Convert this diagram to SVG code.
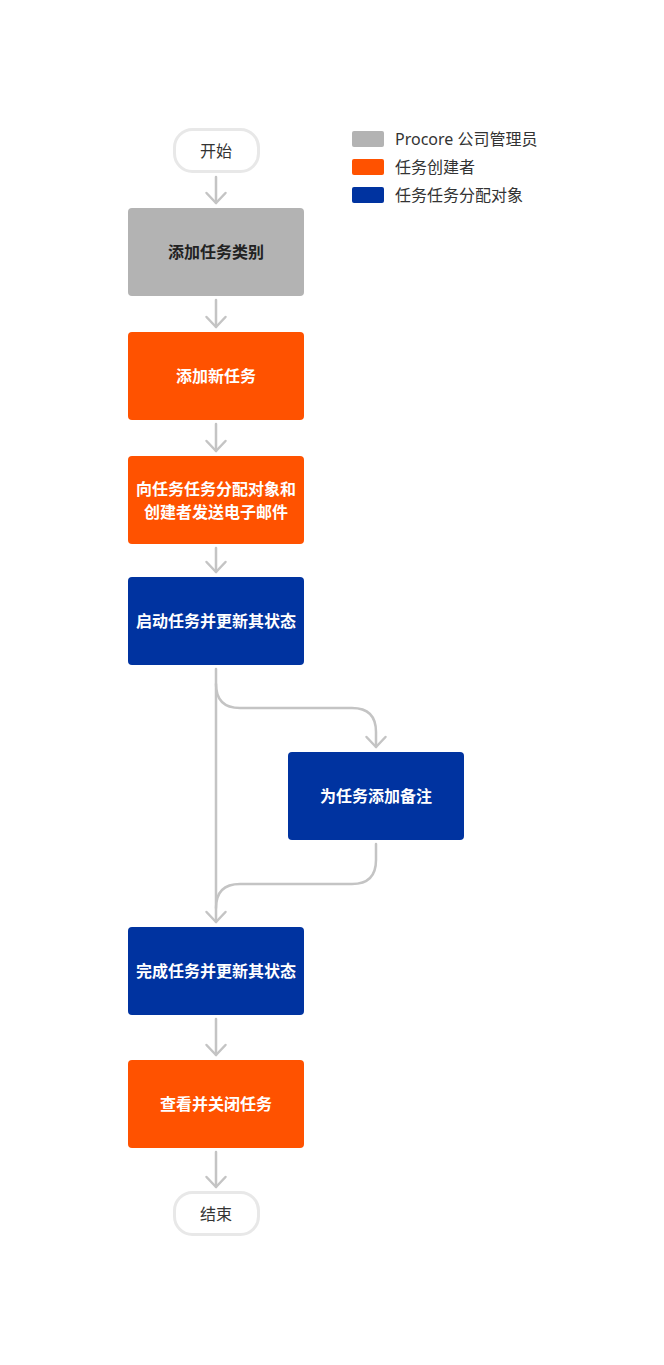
<svg xmlns="http://www.w3.org/2000/svg" width="664" height="1365" viewBox="0 0 664 1365">
<style>
.t{font-family:"Noto Sans CJK SC","Noto Sans",sans-serif;font-size:16px;text-anchor:middle;dominant-baseline:central}
.b{font-weight:bold;fill:#fff}
.d{fill:#222}
.lg{font-family:"Noto Sans","Noto Sans CJK SC",sans-serif;font-size:16px;fill:#333;dominant-baseline:central}
.pill{fill:#fff;stroke:#e8e8e8;stroke-width:3}
.c{fill:none;stroke:#c4c4c4;stroke-width:2.5;stroke-linecap:round;stroke-linejoin:round}
</style>
<defs>
<marker id="ah" viewBox="-12 -12 24 14" refX="0" refY="0" markerWidth="24" markerHeight="14" markerUnits="userSpaceOnUse" orient="auto-start-reverse" overflow="visible">
<path d="M-9.5,-10 L0,0 L9.5,-10" fill="none" stroke="#c4c4c4" stroke-width="2.5" stroke-linecap="round" stroke-linejoin="round" transform="rotate(-90)"/>
</marker>
</defs>
<rect width="664" height="1365" fill="#fff"/>
<g id="legend">
<rect x="352" y="131" width="32" height="16" rx="2" fill="#b3b3b3"/>
<text class="lg" x="395" y="139">Procore 公司管理员</text>
<rect x="352" y="159" width="32" height="16" rx="2" fill="#ff5200"/>
<text class="lg" x="395" y="167">任务创建者</text>
<rect x="352" y="187" width="32" height="16" rx="2" fill="#0033a0"/>
<text class="lg" x="395" y="195">任务任务分配对象</text>
</g>
<g id="connectors">
<path class="c" d="M216,177 V203" marker-end="url(#ah)"/>
<path class="c" d="M216,300 V327" marker-end="url(#ah)"/>
<path class="c" d="M216,424 V451" marker-end="url(#ah)"/>
<path class="c" d="M216,548 V572" marker-end="url(#ah)"/>
<path class="c" d="M216,669 V922" marker-end="url(#ah)"/>
<path class="c" d="M216,684 Q216,708 240,708 H352 Q376,708 376,732 V747" marker-end="url(#ah)"/>
<path class="c" d="M376,844 V860 Q376,884 352,884 H240 Q216,884 216,908"/>
<path class="c" d="M216,1019 V1055" marker-end="url(#ah)"/>
<path class="c" d="M216,1152 V1187" marker-end="url(#ah)"/>
</g>
<g id="start">
<rect class="pill" x="174.5" y="129.5" width="84" height="42" rx="18"/>
<text class="t d" x="216" y="150" style="fill:#333">开始</text>
</g>
<g id="n1">
<rect x="128" y="208" width="176" height="88" rx="4" fill="#b3b3b3"/>
<text class="t d" x="216" y="251" font-weight="bold">添加任务类别</text>
</g>
<g id="n2">
<rect x="128" y="332" width="176" height="88" rx="4" fill="#ff5200"/>
<text class="t b" x="216" y="375">添加新任务</text>
</g>
<g id="n3">
<rect x="128" y="456" width="176" height="88" rx="4" fill="#ff5200"/>
<text class="t b" x="216" y="488">向任务任务分配对象和</text>
<text class="t b" x="216" y="511">创建者发送电子邮件</text>
</g>
<g id="n4">
<rect x="128" y="577" width="176" height="88" rx="4" fill="#0033a0"/>
<text class="t b" x="216" y="620">启动任务并更新其状态</text>
</g>
<g id="n5">
<rect x="288" y="752" width="176" height="88" rx="4" fill="#0033a0"/>
<text class="t b" x="376" y="795">为任务添加备注</text>
</g>
<g id="n6">
<rect x="128" y="927" width="176" height="88" rx="4" fill="#0033a0"/>
<text class="t b" x="216" y="970">完成任务并更新其状态</text>
</g>
<g id="n7">
<rect x="128" y="1060" width="176" height="88" rx="4" fill="#ff5200"/>
<text class="t b" x="216" y="1103">查看并关闭任务</text>
</g>
<g id="end">
<rect class="pill" x="174.5" y="1192.5" width="84" height="42" rx="18"/>
<text class="t d" x="216" y="1213" style="fill:#333">结束</text>
</g>
</svg>
